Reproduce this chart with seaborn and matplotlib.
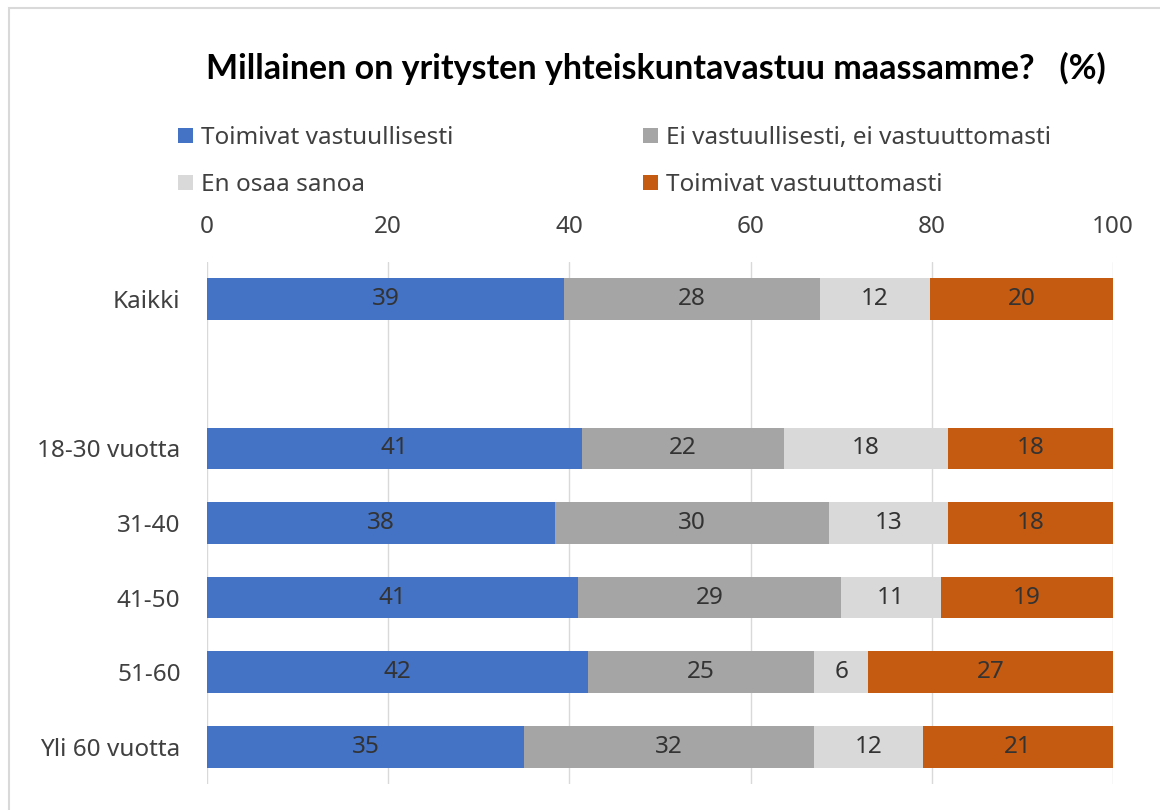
import numpy as np
import pandas as pd
import matplotlib
matplotlib.use('Agg')
import matplotlib.pyplot as plt
import seaborn as sns
from matplotlib.patches import Patch, Rectangle

# y-axis rows (the blank one is the gap between "Kaikki" and the age groups)
groups = ['Kaikki', ' ', '18-30 vuotta', '31-40', '41-50', '51-60', 'Yli 60 vuotta']
data_groups = ['Kaikki', '18-30 vuotta', '31-40', '41-50', '51-60', 'Yli 60 vuotta']

series = ['Toimivat vastuullisesti', 'Ei vastuullisesti, ei vastuuttomasti',
          'En osaa sanoa', 'Toimivat vastuuttomasti']
vastuullisesti = [39, 41, 38, 41, 42, 35]
ei_kumpikaan = [28, 22, 30, 29, 25, 32]
en_osaa = [12, 18, 13, 11, 6, 12]
vastuuttomasti = [20, 18, 18, 19, 27, 21]
colors = ['#4472C4', '#A5A5A5', '#D9D9D9', '#C55A11']

sns.set_style('white')
plt.rcParams['font.family'] = ['Noto Sans', 'DejaVu Sans']
text_col = '#404040'
fs = 17.5

df = pd.DataFrame({'group': data_groups,
                   series[0]: vastuullisesti, series[1]: ei_kumpikaan,
                   series[2]: en_osaa, series[3]: vastuuttomasti}).set_index('group')
# 100 % stacked bar like excel: scale each row to sum 100
pct = df.div(df.sum(axis=1), axis=0) * 100
cum = pct.cumsum(axis=1)

fig = plt.figure(figsize=(11.6, 8.1), dpi=100)
ax = fig.add_axes([207/1160, 1-784/810, 906/1160, 522/810])

# draw from the right end backwards so each segment covers the previous one
for s, c in reversed(list(zip(series, colors))):
  d = cum[s].reset_index()
  sns.barplot(data=d, x=s, y='group', order=groups, color=c, orient='h',
              width=0.56, saturation=1, errorbar=None, linewidth=0, ax=ax)

for s in series:
  for g in data_groups:
    xc = cum.loc[g, s] - pct.loc[g, s]/2
    ax.text(xc, groups.index(g), str(df.loc[g, s]), ha='center', va='center',
            fontsize=fs, color='#333333')

ax.set_xlim(0, 100)
ax.set_xticks(np.arange(0, 101, 20))
ax.xaxis.tick_top()
ax.tick_params(axis='x', length=0, pad=16.5, labelsize=fs, labelcolor=text_col)
ax.tick_params(axis='y', length=0, pad=19, labelsize=fs, labelcolor=text_col)
ax.set_xlabel('')
ax.set_ylabel('')
ax.grid(axis='x', color='#D9D9D9', linewidth=1)
ax.set_axisbelow(True)
for sp in ax.spines.values():
  sp.set_visible(False)

fig.text(656/1160, 1-68/810, 'Millainen on yritysten yhteiskuntavastuu maassamme?   (%)',
         ha='center', va='center', fontsize=24.5, fontweight='bold', color='#000000',
         family=['Lato', 'DejaVu Sans'])

# ncol=2 fills column-wise, so reorder to get the row order of the reference
handles = [Patch(facecolor=c, edgecolor='none') for c in colors]
order = [0, 2, 1, 3]
fig.legend([handles[i] for i in order], [series[i] for i in order], ncol=2,
           loc='upper left', bbox_to_anchor=(178/1160, 1-126/810), frameon=False,
           fontsize=fs, labelcolor=text_col, handlelength=0.6, handleheight=0.6,
           handletextpad=0.35, columnspacing=7.8, labelspacing=0.95, borderpad=0,
           borderaxespad=0)

# thin frame on top/left like the screenshot
fig.patches.append(Rectangle((9/1160, -0.1), 1.2, 1-8/810+0.1, transform=fig.transFigure,
                             fill=False, edgecolor='#D9D9D9', linewidth=1.5))

plt.savefig('out.png', dpi=100)
plt.close()
